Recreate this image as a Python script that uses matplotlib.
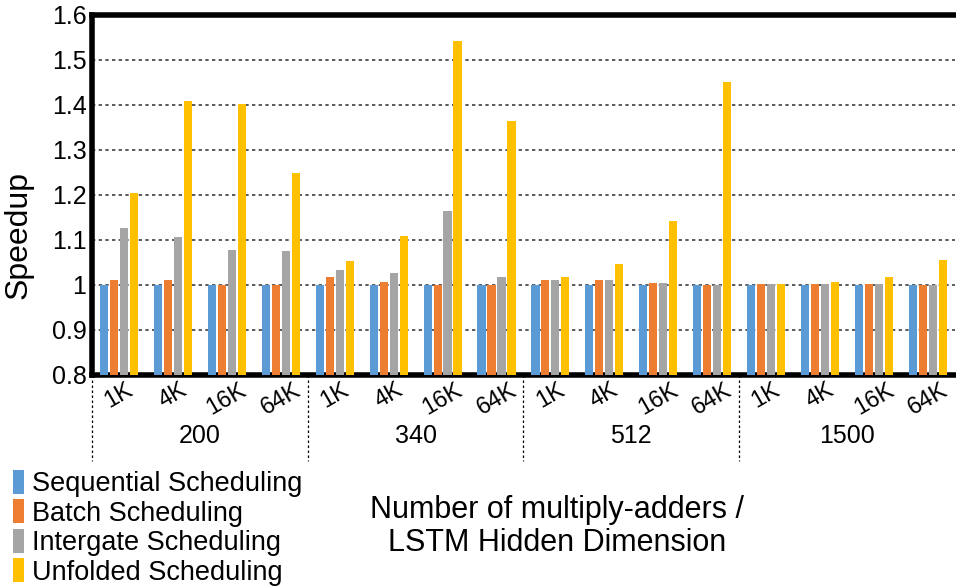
import numpy as np
import matplotlib.pyplot as plt
import matplotlib.transforms as mtransforms
from matplotlib.patches import Patch

# data
groups = ['200', '340', '512', '1500']
sizes = ['1K', '4K', '16K', '64K']
series = ['Sequential Scheduling', 'Batch Scheduling', 'Intergate Scheduling', 'Unfolded Scheduling']
colors = ['#5B9BD5', '#ED7D31', '#A5A5A5', '#FFC000']

sequential = [1.0, 1.0, 1.0, 1.0,   1.0, 1.0, 1.0, 1.0,   1.0, 1.0, 1.0, 1.0,   1.0, 1.0, 1.0, 1.0]
batch = [1.011, 1.011, 1.0, 1.0,   1.018, 1.007, 1.0, 1.0,   1.011, 1.011, 1.004, 1.0,   1.002, 1.002, 1.002, 1.0]
intergate = [1.126, 1.107, 1.078, 1.076,   1.033, 1.027, 1.164, 1.018,   1.011, 1.011, 1.004, 1.0,   1.002, 1.002, 1.002, 1.0]
unfolded = [1.204, 1.409, 1.402, 1.248,   1.053, 1.109, 1.542, 1.364,   1.018, 1.047, 1.142, 1.451,   1.002, 1.007, 1.018, 1.056]

values = [sequential, batch, intergate, unfolded]

fig = plt.figure(figsize=(9.56, 5.87), dpi=100)
plt.rcParams['font.family'] = ['Liberation Sans', 'DejaVu Sans']
ax = fig.add_axes([0.0962, 0.3612, 0.9027, 0.6133])

n = len(groups) * len(sizes)
x = np.arange(n)
width = 0.15
step = 0.185
for i, (vals, c) in enumerate(zip(values, colors)):
    ax.bar(x + (i - 1.5) * step, vals, width=width, color=c, zorder=3)

ax.set_xlim(-0.5, n - 0.5)
ax.set_ylim(0.8, 1.6)
ax.set_yticks(np.arange(0.8, 1.61, 0.1))
ax.set_yticklabels(['0.8', '0.9', '1', '1.1', '1.2', '1.3', '1.4', '1.5', '1.6'], fontsize=18)
ax.yaxis.grid(True, linestyle=(0, (2, 2)), color='#404040', linewidth=1.2, zorder=0)
ax.tick_params(axis='y', length=0, pad=4)

ax.set_xticks(x)
ax.set_xticklabels(sizes * len(groups), rotation=30, fontsize=17)
ax.tick_params(axis='x', length=0, pad=3)

for s in ['left', 'top', 'bottom']:
    ax.spines[s].set_linewidth(4)
ax.spines['right'].set_visible(False)

ax.set_ylabel('Speedup', fontsize=23)
ax.yaxis.set_label_coords(-0.068, 0.39)

# group labels and dotted separators under the axis
trans = mtransforms.blended_transform_factory(ax.transData, ax.transAxes)
for g, name in enumerate(groups):
    ax.text(g * 4 + 1.5, -0.17, name, transform=trans, ha='center', va='center', fontsize=18)
for b in range(len(groups)):
    ax.plot([b * 4 - 0.5, b * 4 - 0.5], [0, -0.24], transform=trans, clip_on=False,
            color='black', linestyle=(0, (2, 2)), linewidth=0.9)

fig.text(0.583, 0.103, 'Number of multiply-adders /\nLSTM Hidden Dimension',
         ha='center', va='center', fontsize=22, linespacing=1.1)

handles = [Patch(facecolor=c) for c in colors]
fig.legend(handles, series, loc='lower left', bbox_to_anchor=(-0.006, -0.03), frameon=False,
           fontsize=19.5, handlelength=0.4, handleheight=1.0, handletextpad=0.3,
           labelspacing=0.08, borderpad=0.2)

fig.savefig('out.png', dpi=100)
